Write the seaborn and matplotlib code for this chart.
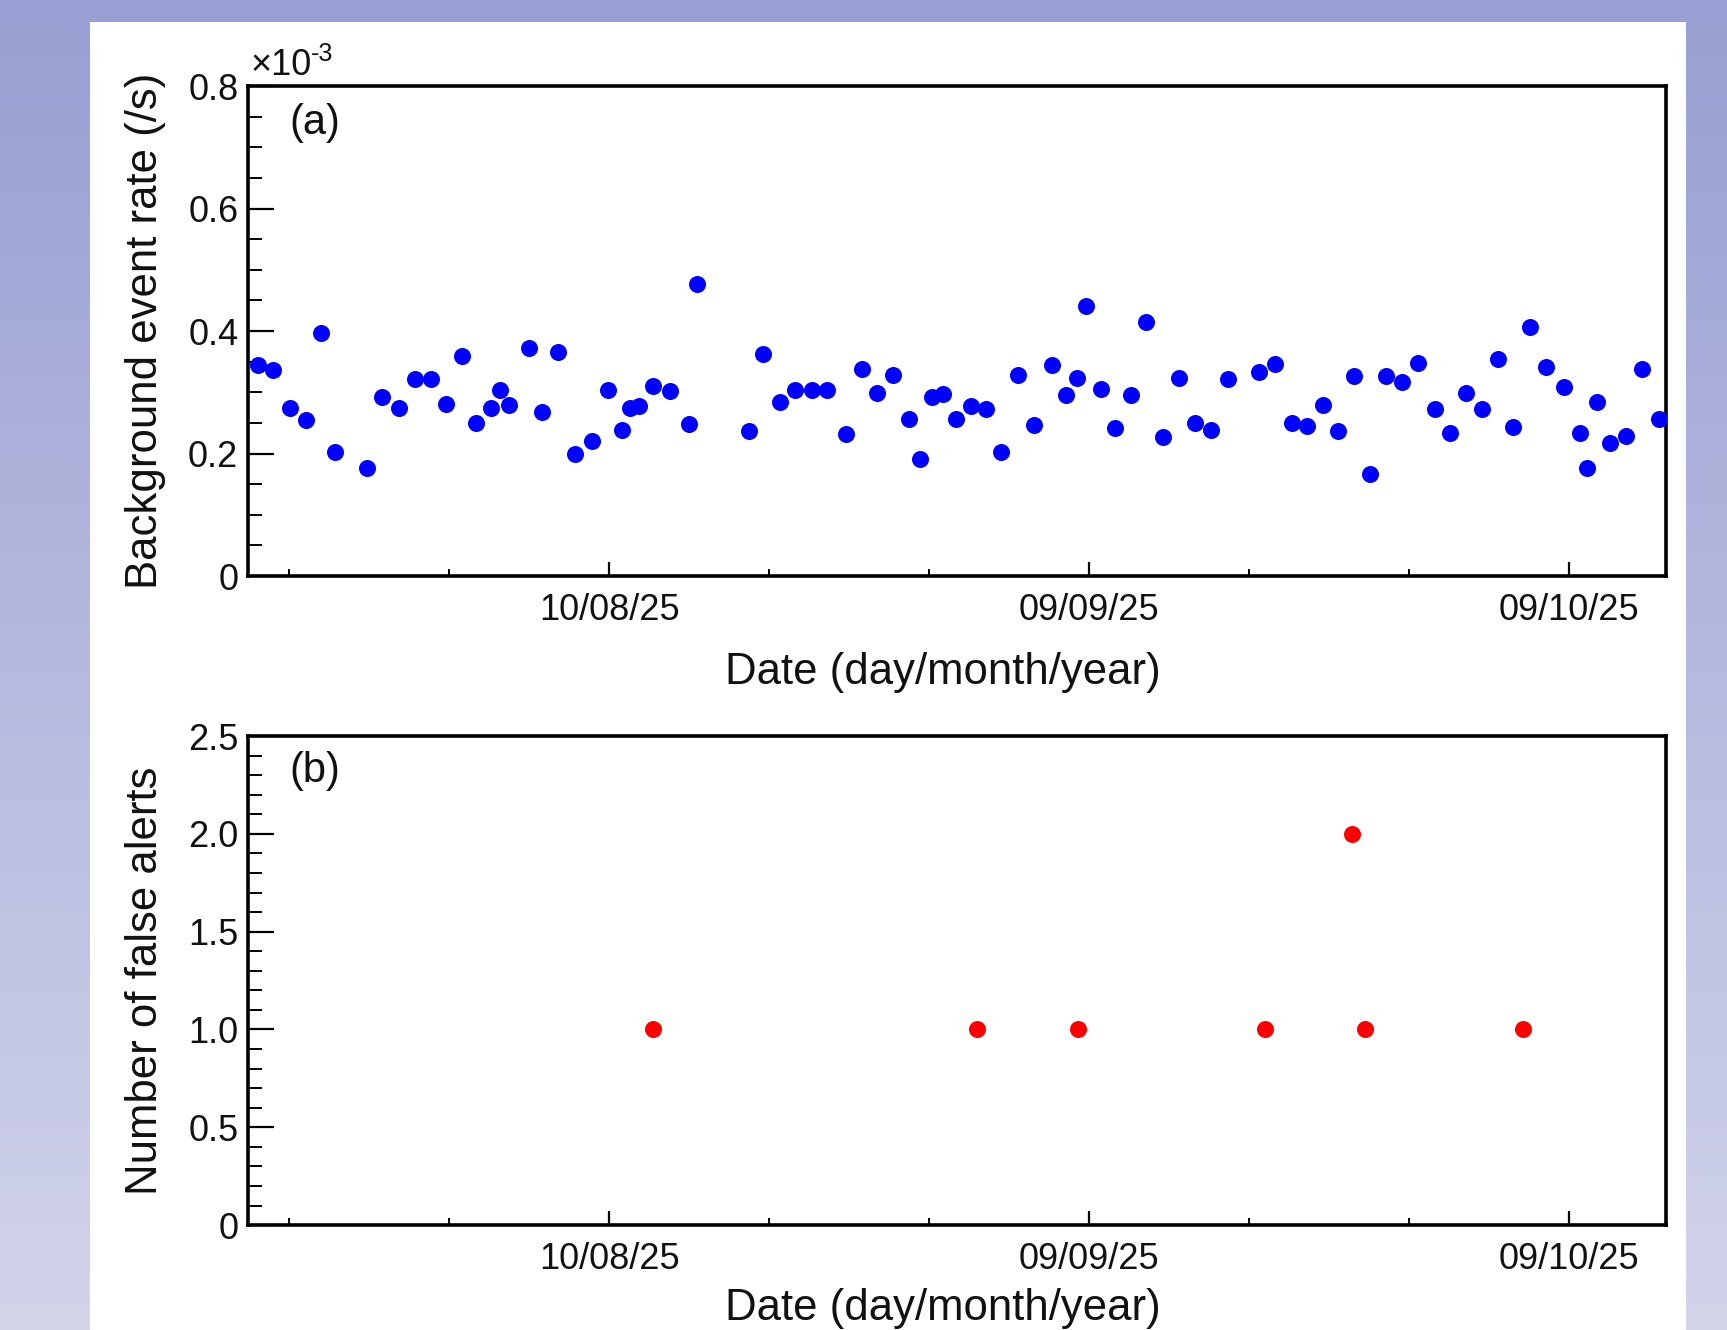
import numpy as np
import pandas as pd
import matplotlib
matplotlib.use("Agg")
import matplotlib.pyplot as plt
import matplotlib.dates as mdates
from matplotlib.ticker import FixedLocator, MultipleLocator, FuncFormatter
from matplotlib.patches import Rectangle
from matplotlib.colors import LinearSegmentedColormap
import seaborn as sns

# ---------------- data ----------------
ref_date = "2025-08-10"   # day offsets below are relative to this date

# (a) background event rate, units of 1e-3 /s
rate_days = [-21.95, -20.99, -19.95, -18.92, -18.03, -17.13, -15.14, -14.17, -13.14, -12.11,
             -11.15, -10.18, -9.22, -8.33, -7.36, -6.81, -6.26, -5.02, -4.20, -3.17,
             -2.13, -1.10, -0.07, 0.83, 1.31, 1.86, 2.75, 3.78, 5.02, 5.50,
             8.74, 9.63, 10.67, 11.63, 12.66, 13.62, 14.79, 15.83, 16.72, 17.75,
             18.72, 19.40, 20.16, 20.85, 21.67, 22.64, 23.53, 24.50, 25.53, 26.56,
             27.66, 28.56, 29.24, 29.79, 30.76, 31.65, 32.62, 33.58, 34.61, 35.64,
             36.61, 37.64, 38.67, 40.60, 41.63, 42.66, 43.62, 44.59, 45.55, 46.58,
             47.55, 48.58, 49.54, 50.57, 51.61, 52.57, 53.54, 54.57, 55.53, 56.49,
             57.53, 58.56, 59.66, 60.69, 61.10, 61.72, 62.55, 63.58, 64.54, 65.64]
rate_vals = [0.345, 0.336, 0.275, 0.255, 0.396, 0.203, 0.176, 0.293, 0.275, 0.322,
             0.322, 0.281, 0.360, 0.250, 0.274, 0.304, 0.279, 0.373, 0.268, 0.365,
             0.200, 0.221, 0.304, 0.239, 0.275, 0.277, 0.311, 0.302, 0.248, 0.477,
             0.236, 0.362, 0.284, 0.304, 0.304, 0.304, 0.232, 0.338, 0.299, 0.329,
             0.256, 0.191, 0.292, 0.297, 0.256, 0.277, 0.272, 0.202, 0.329, 0.247,
             0.344, 0.295, 0.324, 0.441, 0.306, 0.241, 0.295, 0.414, 0.227, 0.324,
             0.250, 0.238, 0.322, 0.333, 0.346, 0.250, 0.245, 0.279, 0.236, 0.326,
             0.167, 0.326, 0.317, 0.347, 0.272, 0.234, 0.299, 0.272, 0.355, 0.243,
             0.407, 0.342, 0.308, 0.234, 0.176, 0.284, 0.218, 0.229, 0.338, 0.256]

# (b) number of false alerts
alert_days = [2.75, 22.98, 29.31, 41.01, 46.45, 47.27, 57.11]
alert_counts = [1, 1, 1, 1, 2, 1, 1]

major_dates = ["2025-08-10", "2025-09-09", "2025-10-09"]
major_labels = ["10/08/25", "09/09/25", "09/10/25"]
minor_dates = ["2025-07-21", "2025-07-31", "2025-08-20", "2025-08-30",
               "2025-09-19", "2025-09-29"]
x_range = ("2025-07-18 10:15", "2025-10-15 01:30")

# ---------------- style ----------------
sns.set_theme(style="white")
plt.rcParams['font.family'] = ['Liberation Sans', 'DejaVu Sans']
plt.rcParams['text.color'] = '#111111'
plt.rcParams['axes.labelcolor'] = '#111111'
plt.rcParams['xtick.color'] = '#111111'
plt.rcParams['ytick.color'] = '#111111'

fig = plt.figure(figsize=(17.27, 13.30), dpi=100)

# gradient backdrop + white sheet
bg = fig.add_axes([0, 0, 1, 1], zorder=-10)
grad = np.linspace(0, 1, 256)[:, None]
cmap = LinearSegmentedColormap.from_list('bg', ['#989fd2', '#d2d4ea'])
bg.imshow(grad, aspect='auto', cmap=cmap, extent=[0, 1, 0, 1], origin='upper')
bg.add_patch(Rectangle((0.0521, 0.0), 0.9242, 0.9835, transform=bg.transAxes,
                       facecolor='white', edgecolor='none'))
bg.set_xlim(0, 1); bg.set_ylim(0, 1)
bg.axis('off')

ax1 = fig.add_axes([0.1436, 0.5669, 0.8211, 0.3684])
ax2 = fig.add_axes([0.1436, 0.0789, 0.8211, 0.3677])

base = pd.Timestamp(ref_date)
dfa = pd.DataFrame({'date': base + pd.to_timedelta(rate_days, unit='D'),
                    'rate': rate_vals})
dfb = pd.DataFrame({'date': base + pd.to_timedelta(alert_days, unit='D'),
                    'alerts': alert_counts})

sns.scatterplot(data=dfa, x='date', y='rate', ax=ax1, color='#0000ff',
                s=150, linewidth=0, legend=False, zorder=3)
sns.scatterplot(data=dfb, x='date', y='alerts', ax=ax2, color='#ff0000',
                s=150, linewidth=0, legend=False, zorder=3)

xmaj = mdates.date2num(pd.to_datetime(major_dates))
xmin = mdates.date2num(pd.to_datetime(minor_dates))
xl = mdates.date2num(pd.to_datetime(list(x_range)))


def fmt(v, pos):
    return '0' if abs(v) < 1e-9 else f'{v:.1f}'


for ax, ymax, ymaj, ymin in [(ax1, 0.8, 0.2, 0.05), (ax2, 2.5, 0.5, 0.1)]:
    ax.set_facecolor('white')
    ax.set_xlim(xl[0], xl[1])
    ax.set_ylim(0, ymax)
    ax.xaxis.set_major_locator(FixedLocator(xmaj))
    ax.xaxis.set_minor_locator(FixedLocator(xmin))
    ax.set_xticklabels(major_labels)
    ax.yaxis.set_major_locator(MultipleLocator(ymaj))
    ax.yaxis.set_minor_locator(MultipleLocator(ymin))
    ax.yaxis.set_major_formatter(FuncFormatter(fmt))
    for sp in ax.spines.values():
        sp.set_visible(True)
        sp.set_color('black')
        sp.set_linewidth(2.6)
    ax.tick_params(axis='both', which='both', direction='in', top=False,
                   right=False, left=True, bottom=True, colors='black',
                   labelcolor='#111111', labelsize=26)
    ax.tick_params(axis='y', which='major', length=19, width=1.6, pad=7)
    ax.tick_params(axis='y', which='minor', length=10, width=1.4)
    ax.tick_params(axis='x', which='major', length=10, width=1.6, pad=12)
    ax.tick_params(axis='x', which='minor', length=5, width=1.4)

ax1.set_xlabel('Date (day/month/year)', fontsize=31.5)
ax1.set_ylabel('Background event rate (/s)', fontsize=31.5)
ax2.set_xlabel('Date (day/month/year)', fontsize=31.5)
ax2.set_ylabel('Number of false alerts', fontsize=31.5)
ax1.xaxis.set_label_coords(0.49, -0.155)
ax2.xaxis.set_label_coords(0.49, -0.128)
ax1.yaxis.set_label_coords(-0.058, 0.5)
ax2.yaxis.set_label_coords(-0.058, 0.5)

ax1.text(0.029, 0.925, '(a)', transform=ax1.transAxes, fontsize=30,
         ha='left', va='center')
ax2.text(0.029, 0.928, '(b)', transform=ax2.transAxes, fontsize=30,
         ha='left', va='center')
# ROOT-style exponent label "×10-3" with raised "-3"
ax1.text(0.002, 1.006, '×10', transform=ax1.transAxes,
         fontsize=26, ha='left', va='bottom')
ax1.text(0.0445, 1.040, '-3', transform=ax1.transAxes,
         fontsize=18, ha='left', va='bottom')

fig.savefig('out.png', dpi=100)
